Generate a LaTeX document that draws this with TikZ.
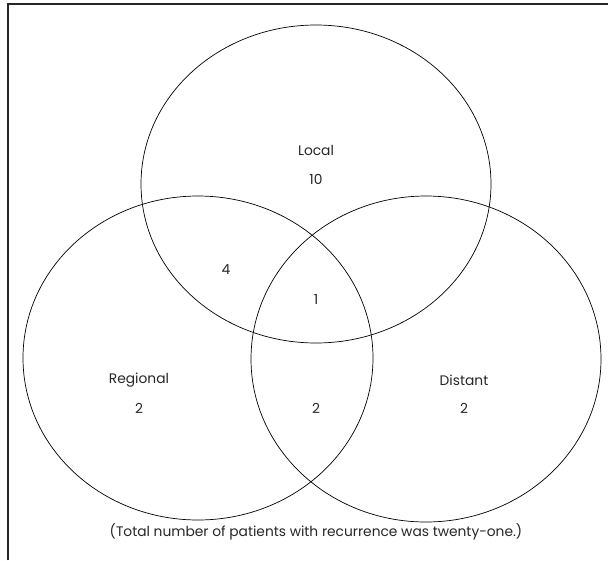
\documentclass[tikz,border=0pt]{standalone}
\usepackage{fontspec}
\setmainfont{Poppins}
\usepackage{tikz}
\usetikzlibrary{positioning}
\usetikzlibrary{shapes.geometric}

\begin{document}
\begin{tikzpicture}[x=1pt,y=-1pt]
	\useasboundingbox (0,0) rectangle (608,560);
	\draw[line width=1.2pt, black!85] (8,560) -- (8,4) -- (608,4);

	\begin{scope}[every node/.style={ellipse, draw, line width=0.7pt, minimum width=350pt, inner sep=0pt}]
		\node[minimum height=318pt] (local) at (316,184) {};
		\node[minimum height=324pt] (regional) at (198,358) {};
		\node[minimum height=326pt] (distant) at (426,359) {};
	\end{scope}

	\begin{scope}[every node/.style={font=\fontsize{13.8pt}{16pt}\selectfont, text=black!85, inner sep=1pt}]
		\node (l) at (316,150) {Local};
		\node (ln) at (316,179) {10};
		\node (lr) at (226,270) {4};
		\node (lrd) at (316,300) {1};
		\node (r) at (139,380) {Regional};
		\node (rn) at (139,408) {2};
		\node (rd) at (316,408) {2};
		\node (d) at (464,380) {Distant};
		\node (dn) at (464,408) {2};
		\node (cap) at (316,532) {(Total number of patients with recurrence was twenty-one.)};
	\end{scope}
\end{tikzpicture}
\end{document}
